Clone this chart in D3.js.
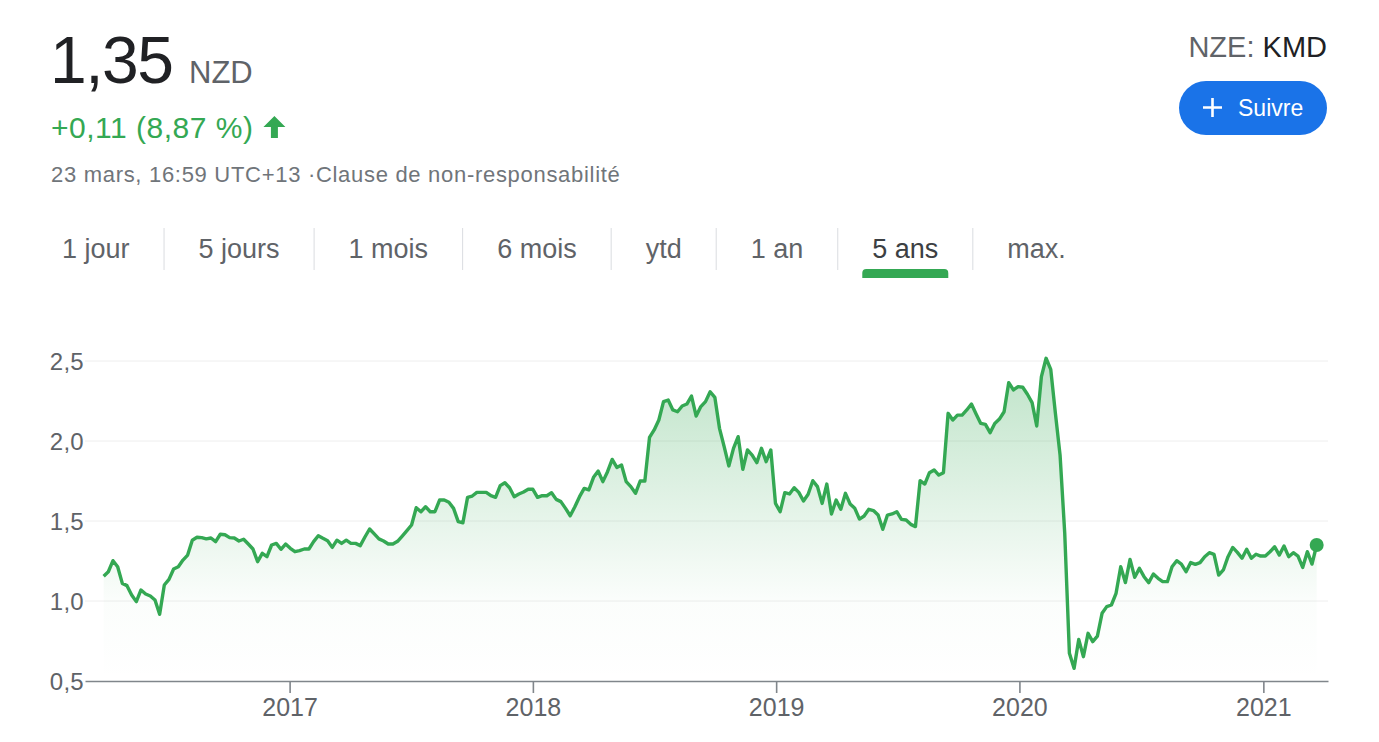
<!DOCTYPE html>
<html>
<head>
<meta charset="utf-8">
<script src="https://cdn.jsdelivr.net/npm/d3@7"></script>
<style>
    body { margin: 0; background: #fff; }
    svg { display: block; font-family: "Liberation Sans", Arial, Helvetica, sans-serif; }
</style>
</head>
<body>
<svg id="chart" width="1379" height="742"></svg>
<script>
"use strict";

// weekly closes, NZE:KMD, 5 years
var startDate = "2016-03-28";
var closes = [
    1.155, 1.183, 1.252, 1.214, 1.11, 1.096, 1.038, 0.996, 1.069, 1.044, 1.031, 1.006, 0.917, 1.10, 1.135, 1.20, 1.214,
    1.256, 1.287, 1.38, 1.398, 1.396, 1.388, 1.394, 1.371, 1.417, 1.414, 1.396, 1.394, 1.375, 1.386, 1.356, 1.325, 1.246,
    1.298, 1.277, 1.35, 1.36, 1.323, 1.356, 1.329, 1.308, 1.315, 1.325, 1.325, 1.371, 1.408, 1.392, 1.377, 1.335, 1.38,
    1.36, 1.38, 1.36, 1.36, 1.346, 1.40, 1.45, 1.419, 1.388, 1.375, 1.356, 1.356, 1.373, 1.406, 1.44, 1.475, 1.583,
    1.558, 1.589, 1.558, 1.558, 1.631, 1.631, 1.617, 1.579, 1.496, 1.489, 1.648, 1.656, 1.679, 1.679, 1.679, 1.658,
    1.648, 1.721, 1.739, 1.708, 1.652, 1.669, 1.681, 1.698, 1.698, 1.648, 1.658, 1.658, 1.677, 1.635, 1.621, 1.579,
    1.533, 1.589, 1.652, 1.704, 1.694, 1.773, 1.812, 1.746, 1.808, 1.885, 1.835, 1.85,
    1.746, 1.715, 1.673, 1.75, 1.75, 2.023, 2.069, 2.131, 2.246, 2.256, 2.194, 2.183, 2.219, 2.231, 2.281, 2.156,
    2.215, 2.246, 2.308, 2.273, 2.079, 1.965, 1.844, 1.954, 2.027, 1.823, 1.944, 1.912, 1.865, 1.954, 1.871, 1.944,
    1.610, 1.558, 1.677, 1.669, 1.708, 1.679, 1.625, 1.667, 1.752, 1.715, 1.610, 1.731, 1.544, 1.631, 1.573, 1.673,
    1.606, 1.579, 1.512, 1.531, 1.573, 1.565, 1.537, 1.448, 1.537, 1.544, 1.558, 1.510, 1.506, 1.479, 1.465,
    1.752, 1.731, 1.802, 1.819, 1.787, 1.802, 2.173, 2.131, 2.162, 2.162, 2.194, 2.231, 2.169, 2.110, 2.104, 2.052,
    2.110, 2.137, 2.183, 2.365, 2.319, 2.340, 2.336, 2.292, 2.240, 2.094, 2.402, 2.517, 2.448, 2.173, 1.912, 1.423,
    0.673, 0.579, 0.760, 0.652, 0.798, 0.746, 0.781,
    0.923, 0.965, 0.975, 1.048, 1.214, 1.115, 1.260, 1.148, 1.204, 1.152, 1.115, 1.169, 1.142, 1.121, 1.121, 1.214,
    1.252, 1.231, 1.183, 1.240, 1.229, 1.240, 1.277, 1.302, 1.292, 1.162, 1.194, 1.277, 1.335, 1.304, 1.267, 1.323,
    1.267, 1.292, 1.281, 1.281, 1.308, 1.339, 1.287, 1.344, 1.277, 1.302, 1.281, 1.210, 1.308, 1.231, 1.35
];
var yTicks = [0.5, 1.0, 1.5, 2.0, 2.5];
var yearTicks = [2017, 2018, 2019, 2020, 2021];
var tabs = ["1 jour", "5 jours", "1 mois", "6 mois", "ytd", "1 an", "5 ans", "max."];
var activeTab = "5 ans";

var GREEN = "#34a853";

var svg = d3.select("#chart");
var parseDate = d3.utcParse("%Y-%m-%d");

var series = closes.map(function(v, i) {
    return { date: d3.utcDay.offset(parseDate(startDate), 7 * i), value: v };
});

// ---- header ----
var head = svg.append("g").attr("class", "quoteHeader");

head.append("text")
    .attr("x", 50).attr("y", 83)
    .attr("font-size", 66).attr("letter-spacing", -1.5)
    .attr("fill", "#202124")
    .text("1,35");

head.append("text")
    .attr("x", 189).attr("y", 83)
    .attr("font-size", 31)
    .attr("fill", "#5f6368")
    .text("NZD");

var change = head.append("text")
    .attr("x", 51).attr("y", 138)
    .attr("font-size", 30).attr("letter-spacing", 0.5)
    .attr("fill", GREEN)
    .text("+0,11 (8,87 %)");

var cx = 51 + change.node().getComputedTextLength() + 21;
head.append("path")
    .attr("transform", "translate(" + cx + ",127)")
    .attr("fill", GREEN)
    .attr("d", "M0,-11 L11,0 L3.5,0 L3.5,11 L-3.5,11 L-3.5,0 L-11,0 Z");

head.append("text")
    .attr("x", 51).attr("y", 182)
    .attr("font-size", 22).attr("letter-spacing", 0.7)
    .attr("fill", "#70757a")
    .text("23 mars, 16:59 UTC+13 \u00b7Clause de non-responsabilit\u00e9");

var ticker = head.append("text")
    .attr("x", 1327).attr("y", 57)
    .attr("font-size", 29)
    .attr("text-anchor", "end");
ticker.append("tspan").attr("fill", "#5f6368").text("NZE: ");
ticker.append("tspan").attr("fill", "#202124").text("KMD");

var follow = head.append("g").attr("class", "followButton");
follow.append("rect")
    .attr("x", 1179).attr("y", 81)
    .attr("width", 148).attr("height", 54)
    .attr("rx", 27)
    .attr("fill", "#1a73e8");
follow.append("path")
    .attr("d", "M1212.5,98 V117 M1203,107.5 H1222")
    .attr("stroke", "#fff")
    .attr("stroke-width", 2.6);
follow.append("text")
    .attr("x", 1238).attr("y", 116)
    .attr("font-size", 23)
    .attr("fill", "#fff")
    .text("Suivre");

// ---- range tabs ----
var tabG = svg.append("g").attr("class", "rangeTabs");
var cursor = 62;

tabs.forEach(function(label, i) {
    if (i > 0) {
        tabG.append("line")
            .attr("x1", cursor + 0.5).attr("x2", cursor + 0.5)
            .attr("y1", 228).attr("y2", 270)
            .attr("stroke", "#dadce0");
        cursor += 35;
    }
    var t = tabG.append("text")
        .attr("x", cursor).attr("y", 258)
        .attr("font-size", 27)
        .attr("fill", label === activeTab ? "#3c4043" : "#5f6368")
        .text(label);
    var w = t.node().getComputedTextLength();
    if (label === activeTab) {
        var mid = cursor + w / 2;
        tabG.append("path")
            .attr("fill", GREEN)
            .attr("d", "M" + (mid - 43) + ",278 V273 Q" + (mid - 43) + ",269 " + (mid - 39) + ",269 H" +
                (mid + 39) + " Q" + (mid + 43) + ",269 " + (mid + 43) + ",273 V278 Z");
    }
    cursor += w + 34;
});

// ---- chart ----
var x = d3.scaleUtc()
    .domain([parseDate("2016-02-29"), parseDate("2021-04-08")])
    .range([85, 1328]);

var y = d3.scaleLinear()
    .domain([0.5, 2.5])
    .range([681, 361]);

var plot = svg.append("g").attr("class", "priceChart");

var grad = svg.append("defs").append("linearGradient")
    .attr("id", "areaFill")
    .attr("gradientUnits", "userSpaceOnUse")
    .attr("x1", 0).attr("x2", 0)
    .attr("y1", y(2.5)).attr("y2", y(0.5));
grad.append("stop").attr("offset", 0).attr("stop-color", GREEN).attr("stop-opacity", 0.32);
grad.append("stop").attr("offset", 0.75).attr("stop-color", GREEN).attr("stop-opacity", 0.02);
grad.append("stop").attr("offset", 1).attr("stop-color", GREEN).attr("stop-opacity", 0);

// horizontal grid
plot.append("g")
    .selectAll("line")
    .data(yTicks.slice(1))
    .join("line")
    .attr("x1", x.range()[0]).attr("x2", x.range()[1])
    .attr("y1", function(d) { return y(d); })
    .attr("y2", function(d) { return y(d); })
    .attr("stroke", "#eeeeee");

// y labels
plot.append("g")
    .selectAll("text")
    .data(yTicks)
    .join("text")
    .attr("x", 84)
    .attr("y", function(d) { return y(d); })
    .attr("dy", "0.36em")
    .attr("text-anchor", "end")
    .attr("font-size", 24).attr("letter-spacing", 0.3)
    .attr("fill", "#5f6368")
    .text(function(d) { return d3.format(".1f")(d).replace(".", ","); });

// area + line
plot.append("path")
    .datum(series)
    .attr("fill", "url(#areaFill)")
    .attr("d", d3.area()
        .x(function(d) { return x(d.date); })
        .y0(y(0.5))
        .y1(function(d) { return y(d.value); }));

plot.append("path")
    .datum(series)
    .attr("fill", "none")
    .attr("stroke", GREEN)
    .attr("stroke-width", 3.4)
    .attr("stroke-linejoin", "round")
    .attr("d", d3.line()
        .x(function(d) { return x(d.date); })
        .y(function(d) { return y(d.value); }));

// x axis
var xAxis = d3.axisBottom(x)
    .tickValues(yearTicks.map(function(yr) { return new Date(Date.UTC(yr, 0, 1)); }))
    .tickFormat(d3.utcFormat("%Y"))
    .tickSizeInner(12)
    .tickSizeOuter(0)
    .tickPadding(5);

var axisG = plot.append("g")
    .attr("transform", "translate(0," + y(0.5) + ")")
    .call(xAxis);

axisG.select(".domain").attr("stroke", "#80868b").attr("stroke-width", 1.6);
axisG.selectAll(".tick line").attr("stroke", "#80868b").attr("stroke-width", 1.6);
axisG.selectAll(".tick text")
    .attr("font-family", "Liberation Sans, Arial, sans-serif")
    .attr("font-size", 25)
    .attr("fill", "#5f6368");

// last price marker
var last = series[series.length - 1];
plot.append("circle")
    .attr("cx", x(last.date))
    .attr("cy", y(last.value))
    .attr("r", 7)
    .attr("fill", GREEN);
</script>
</body>
</html>
